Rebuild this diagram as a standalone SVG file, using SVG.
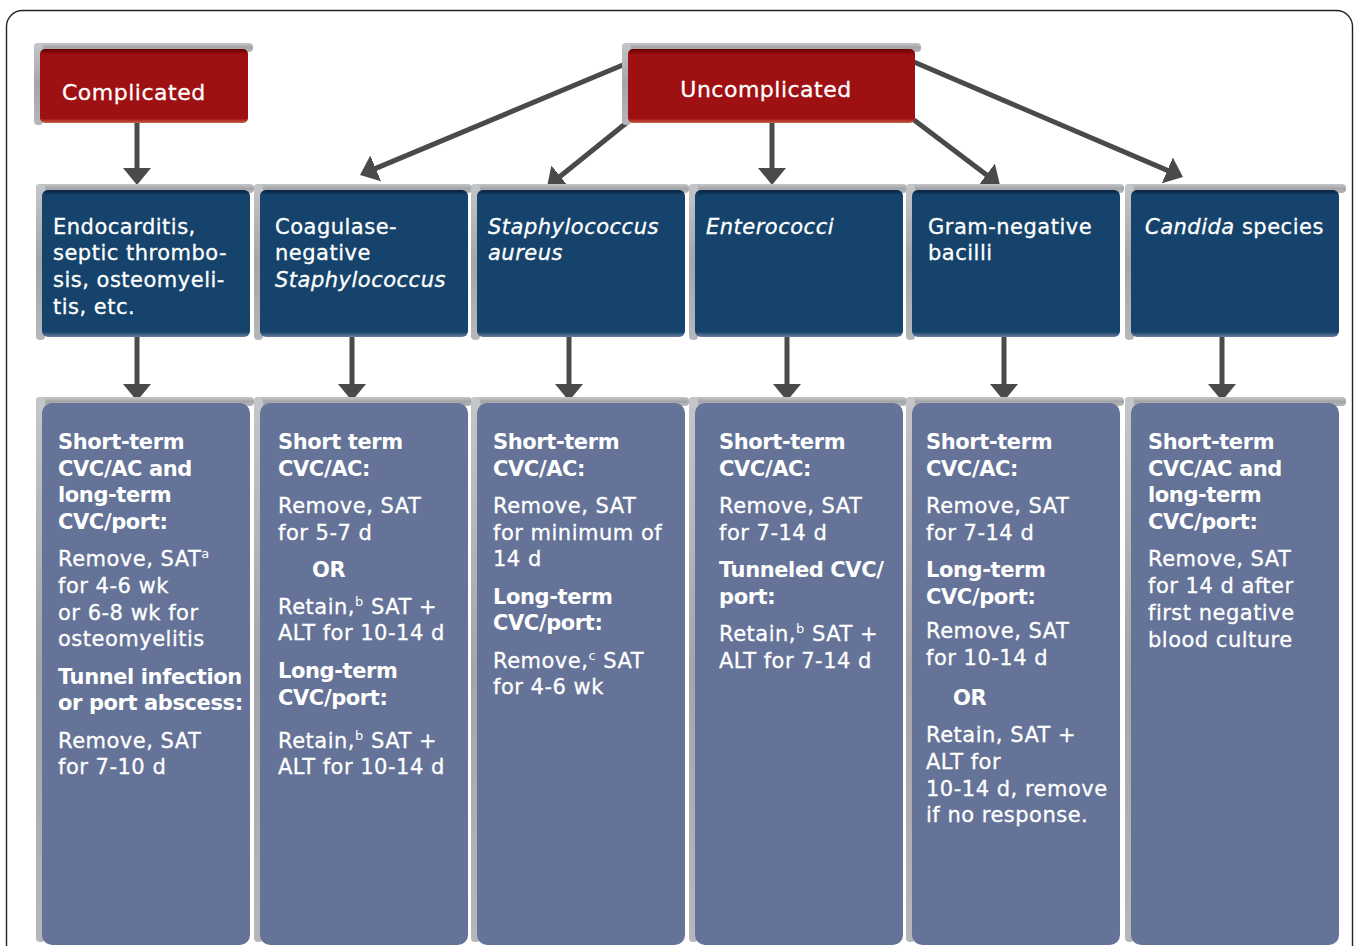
<svg xmlns="http://www.w3.org/2000/svg" width="1355" height="946" viewBox="0 0 1355 946">
<defs>
<style>
.t{font-family:"DejaVu Sans","Liberation Sans",sans-serif;font-size:21px;fill:#ffffff;letter-spacing:0.5px;stroke:#ffffff;stroke-width:0.3px}
.b{font-weight:bold;letter-spacing:-0.4px;stroke-width:0}
.i{font-style:italic}
.lab{font-size:22px;letter-spacing:0.5px}
.sup{font-size:13px;stroke-width:0}
.frame{fill:url(#gGray)}
.hdr{fill:url(#gBlue)}
.red{fill:url(#gRed)}
.low{fill:#647397}
.conn{stroke:#4a4a4a;stroke-width:5;fill:none;marker-end:url(#ah)}
</style>
<linearGradient id="gGray" x1="0" y1="0" x2="0" y2="1">
<stop offset="0" stop-color="#c4c6c9"/>
<stop offset="0.5" stop-color="#a3a5a8"/>
<stop offset="1" stop-color="#b5b7ba"/>
</linearGradient>
<linearGradient id="gBlue" x1="0" y1="0" x2="0" y2="1">
<stop offset="0" stop-color="#06213f"/>
<stop offset="0.035" stop-color="#15436b"/>
<stop offset="0.965" stop-color="#15436b"/>
<stop offset="1" stop-color="#6d7ea0"/>
</linearGradient>
<linearGradient id="gRed" x1="0" y1="0" x2="0" y2="1">
<stop offset="0" stop-color="#650000"/>
<stop offset="0.08" stop-color="#9f1012"/>
<stop offset="0.94" stop-color="#9f1012"/>
<stop offset="1" stop-color="#c7624b"/>
</linearGradient>
<marker id="ah" viewBox="0 0 17 28" refX="9" refY="14" markerWidth="17" markerHeight="28" markerUnits="userSpaceOnUse" orient="auto">
<path d="M0,0 L17,14 L0,28 Z" fill="#4a4a4a"/>
</marker>
</defs>
<rect x="6.5" y="10.5" width="1346" height="980" rx="16" fill="#ffffff" stroke="#222222" stroke-width="1.4"/>

<g id="connectors">
<path class="conn" d="M137,123 L137,177"/>
<path class="conn" d="M772,123 L772,177"/>
<path class="conn" d="M630,62 L367.4,171.9"/>
<path class="conn" d="M630,120 L553.2,182"/>
<path class="conn" d="M914,62 L1175.6,173.9"/>
<path class="conn" d="M914,120 L993.6,180.2"/>
<path class="conn" d="M137,337 L137,393"/>
<path class="conn" d="M352,337 L352,393"/>
<path class="conn" d="M569,337 L569,393"/>
<path class="conn" d="M787,337 L787,393"/>
<path class="conn" d="M1004,337 L1004,393"/>
<path class="conn" d="M1222,337 L1222,393"/>
</g>

<g id="complicated">
<rect class="frame" x="34" y="43" width="219" height="9" rx="4"/>
<rect class="frame" x="34" y="43" width="9" height="82" rx="4"/>
<rect class="red" x="40" y="49" width="208" height="74" rx="5"/>
<text class="t lab" x="62" y="100">Complicated</text>
</g>

<g id="uncomplicated">
<rect class="frame" x="622" y="43" width="299" height="9" rx="4"/>
<rect class="frame" x="622" y="43" width="9" height="82" rx="4"/>
<rect class="red" x="628" y="49" width="287" height="74" rx="5"/>
<text class="t lab" x="766" y="97" text-anchor="middle">Uncomplicated</text>
</g>

<g id="h1">
<rect class="frame" x="36" y="184" width="218" height="9" rx="4"/>
<rect class="frame" x="36" y="184" width="9" height="156" rx="4"/>
<rect class="hdr" x="42" y="190" width="208" height="147" rx="6"/>
<text class="t" x="53" y="234">Endocarditis,</text>
<text class="t" x="53" y="260">septic thrombo-</text>
<text class="t" x="53" y="287">sis, osteomyeli-</text>
<text class="t" x="53" y="314">tis, etc.</text>
</g>
<g id="h2">
<rect class="frame" x="254" y="184" width="218" height="9" rx="4"/>
<rect class="frame" x="254" y="184" width="9" height="156" rx="4"/>
<rect class="hdr" x="260" y="190" width="208" height="147" rx="6"/>
<text class="t" x="275" y="234">Coagulase-</text>
<text class="t" x="275" y="260">negative</text>
<text class="t i" x="275" y="287">Staphylococcus</text>
</g>
<g id="h3">
<rect class="frame" x="471" y="184" width="218" height="9" rx="4"/>
<rect class="frame" x="471" y="184" width="9" height="156" rx="4"/>
<rect class="hdr" x="477" y="190" width="208" height="147" rx="6"/>
<text class="t i" x="488" y="234">Staphylococcus</text>
<text class="t i" x="488" y="260">aureus</text>
</g>
<g id="h4">
<rect class="frame" x="689" y="184" width="218" height="9" rx="4"/>
<rect class="frame" x="689" y="184" width="9" height="156" rx="4"/>
<rect class="hdr" x="695" y="190" width="208" height="147" rx="6"/>
<text class="t i" x="706" y="234">Enterococci</text>
</g>
<g id="h5">
<rect class="frame" x="906" y="184" width="218" height="9" rx="4"/>
<rect class="frame" x="906" y="184" width="9" height="156" rx="4"/>
<rect class="hdr" x="912" y="190" width="208" height="147" rx="6"/>
<text class="t" x="928" y="234">Gram-negative</text>
<text class="t" x="928" y="260">bacilli</text>
</g>
<g id="h6">
<rect class="frame" x="1125" y="184" width="221" height="9" rx="4"/>
<rect class="frame" x="1125" y="184" width="9" height="156" rx="4"/>
<rect class="hdr" x="1131" y="190" width="208" height="147" rx="6"/>
<text class="t" x="1145" y="234"><tspan class="i">Candida</tspan> species</text>
</g>

<g id="b1">
<rect class="frame" x="36" y="397" width="218" height="9" rx="4"/>
<rect class="frame" x="36" y="397" width="9" height="545" rx="4"/>
<rect class="low" x="42" y="403" width="208" height="542" rx="10"/>
<text class="t b" x="58" y="449">Short-term</text>
<text class="t b" x="58" y="476">CVC/AC and</text>
<text class="t b" x="58" y="502">long-term</text>
<text class="t b" x="58" y="529">CVC/port:</text>
<text class="t" x="58" y="566">Remove, SAT<tspan class="sup" dy="-8">a</tspan></text>
<text class="t" x="58" y="593">for 4-6 wk</text>
<text class="t" x="58" y="620">or 6-8 wk for</text>
<text class="t" x="58" y="646">osteomyelitis</text>
<text class="t b" x="58" y="684">Tunnel infection</text>
<text class="t b" x="58" y="710">or port abscess:</text>
<text class="t" x="58" y="748">Remove, SAT</text>
<text class="t" x="58" y="774">for 7-10 d</text>
</g>
<g id="b2">
<rect class="frame" x="254" y="397" width="218" height="9" rx="4"/>
<rect class="frame" x="254" y="397" width="9" height="545" rx="4"/>
<rect class="low" x="260" y="403" width="208" height="542" rx="10"/>
<text class="t b" x="278" y="449">Short term</text>
<text class="t b" x="278" y="476">CVC/AC:</text>
<text class="t" x="278" y="513">Remove, SAT</text>
<text class="t" x="278" y="540">for 5-7 d</text>
<text class="t b" x="312" y="577">OR</text>
<text class="t" x="278" y="614">Retain,<tspan class="sup" dy="-8">b</tspan><tspan dy="8"> SAT +</tspan></text>
<text class="t" x="278" y="640">ALT for 10-14 d</text>
<text class="t b" x="278" y="678">Long-term</text>
<text class="t b" x="278" y="705">CVC/port:</text>
<text class="t" x="278" y="748">Retain,<tspan class="sup" dy="-8">b</tspan><tspan dy="8"> SAT +</tspan></text>
<text class="t" x="278" y="774">ALT for 10-14 d</text>
</g>
<g id="b3">
<rect class="frame" x="471" y="397" width="218" height="9" rx="4"/>
<rect class="frame" x="471" y="397" width="9" height="545" rx="4"/>
<rect class="low" x="477" y="403" width="208" height="542" rx="10"/>
<text class="t b" x="493" y="449">Short-term</text>
<text class="t b" x="493" y="476">CVC/AC:</text>
<text class="t" x="493" y="513">Remove, SAT</text>
<text class="t" x="493" y="540">for minimum of</text>
<text class="t" x="493" y="566">14 d</text>
<text class="t b" x="493" y="604">Long-term</text>
<text class="t b" x="493" y="630">CVC/port:</text>
<text class="t" x="493" y="668">Remove,<tspan class="sup" dy="-8">c</tspan><tspan dy="8"> SAT</tspan></text>
<text class="t" x="493" y="694">for 4-6 wk</text>
</g>
<g id="b4">
<rect class="frame" x="689" y="397" width="218" height="9" rx="4"/>
<rect class="frame" x="689" y="397" width="9" height="545" rx="4"/>
<rect class="low" x="695" y="403" width="208" height="542" rx="10"/>
<text class="t b" x="719" y="449">Short-term</text>
<text class="t b" x="719" y="476">CVC/AC:</text>
<text class="t" x="719" y="513">Remove, SAT</text>
<text class="t" x="719" y="540">for 7-14 d</text>
<text class="t b" x="719" y="577">Tunneled CVC/</text>
<text class="t b" x="719" y="604">port:</text>
<text class="t" x="719" y="641">Retain,<tspan class="sup" dy="-8">b</tspan><tspan dy="8"> SAT +</tspan></text>
<text class="t" x="719" y="668">ALT for 7-14 d</text>
</g>
<g id="b5">
<rect class="frame" x="906" y="397" width="218" height="9" rx="4"/>
<rect class="frame" x="906" y="397" width="9" height="545" rx="4"/>
<rect class="low" x="912" y="403" width="208" height="542" rx="10"/>
<text class="t b" x="926" y="449">Short-term</text>
<text class="t b" x="926" y="476">CVC/AC:</text>
<text class="t" x="926" y="513">Remove, SAT</text>
<text class="t" x="926" y="540">for 7-14 d</text>
<text class="t b" x="926" y="577">Long-term</text>
<text class="t b" x="926" y="604">CVC/port:</text>
<text class="t" x="926" y="638">Remove, SAT</text>
<text class="t" x="926" y="665">for 10-14 d</text>
<text class="t b" x="953" y="705">OR</text>
<text class="t" x="926" y="742">Retain, SAT +</text>
<text class="t" x="926" y="769">ALT for</text>
<text class="t" x="926" y="796">10-14 d, remove</text>
<text class="t" x="926" y="822">if no response.</text>
</g>
<g id="b6">
<rect class="frame" x="1125" y="397" width="221" height="9" rx="4"/>
<rect class="frame" x="1125" y="397" width="9" height="545" rx="4"/>
<rect class="low" x="1131" y="403" width="208" height="542" rx="10"/>
<text class="t b" x="1148" y="449">Short-term</text>
<text class="t b" x="1148" y="476">CVC/AC and</text>
<text class="t b" x="1148" y="502">long-term</text>
<text class="t b" x="1148" y="529">CVC/port:</text>
<text class="t" x="1148" y="566">Remove, SAT</text>
<text class="t" x="1148" y="593">for 14 d after</text>
<text class="t" x="1148" y="620">first negative</text>
<text class="t" x="1148" y="647">blood culture</text>
</g>
</svg>
